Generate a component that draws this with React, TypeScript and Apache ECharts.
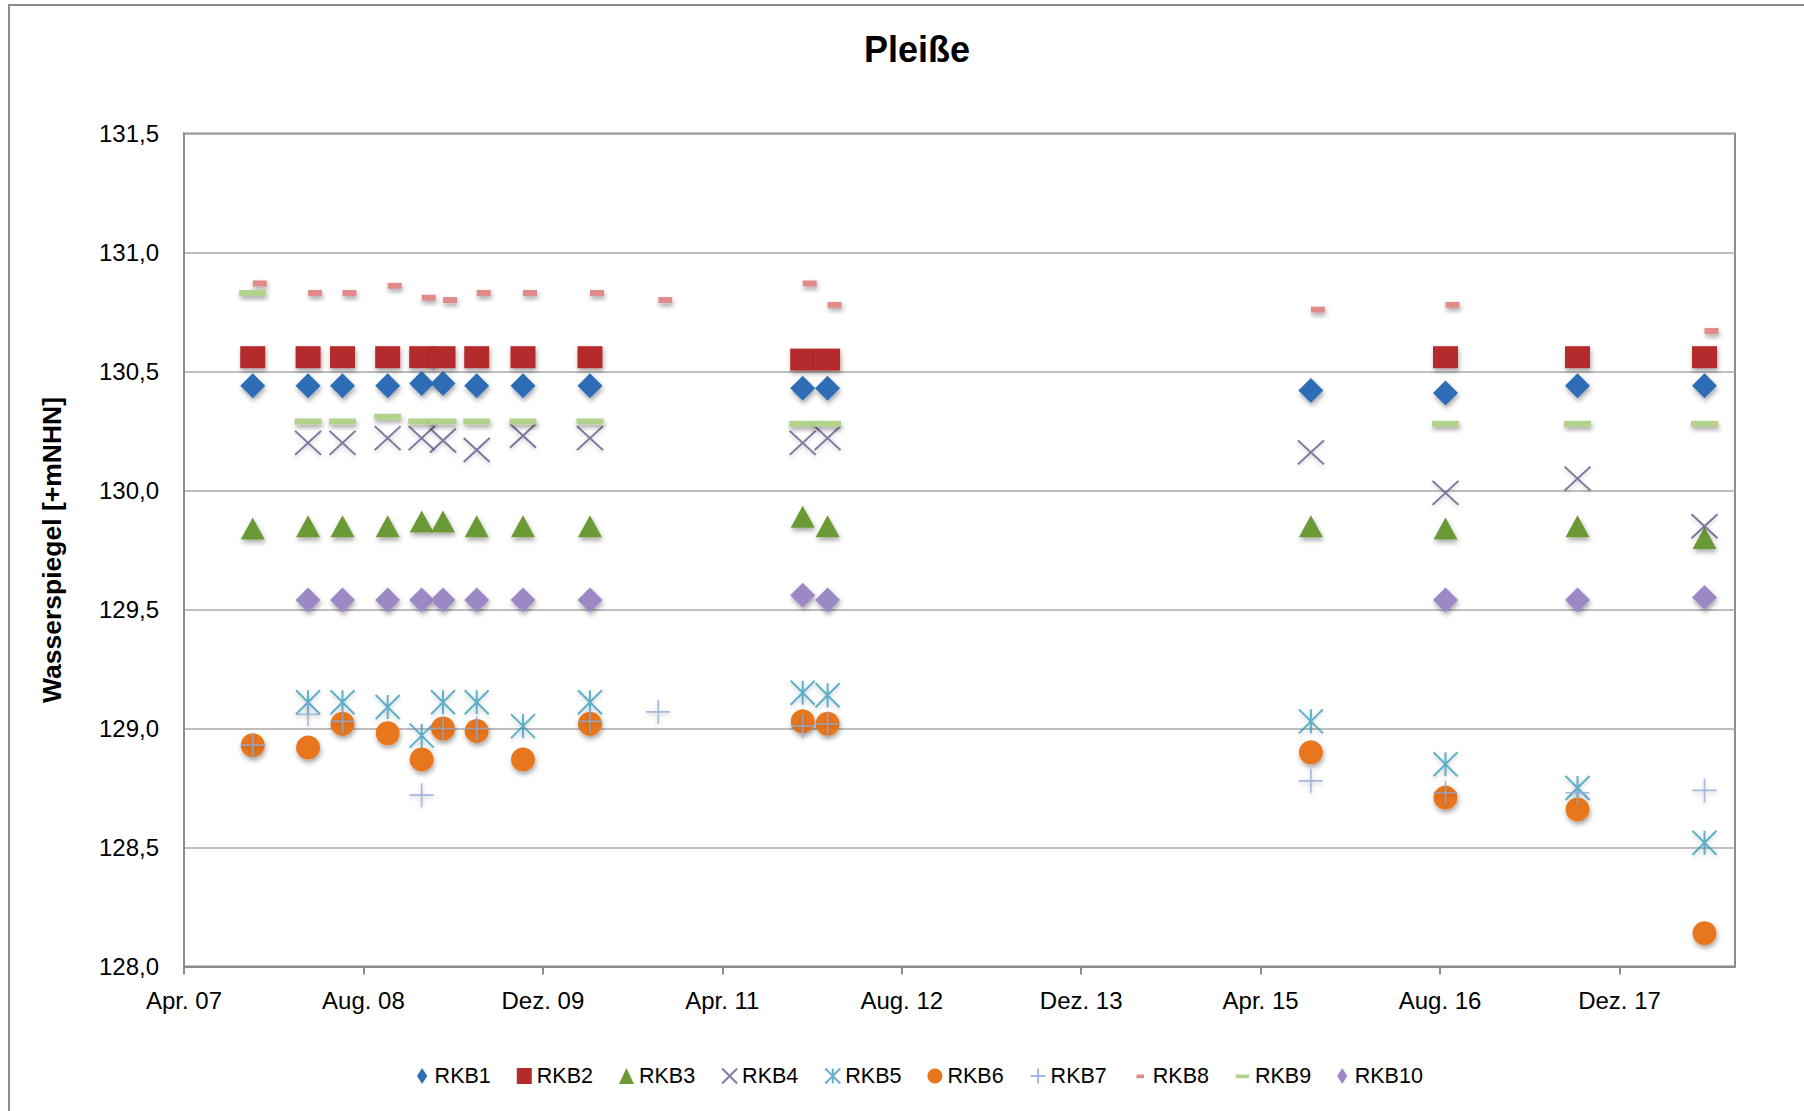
import React, { useEffect, useRef } from "react";
import * as echarts from "echarts";

// ---- data ----
const dates = [
  "2007-10-05", "2008-03-03", "2008-06-05", "2008-10-06", "2009-01-07", "2009-03-04",
  "2009-06-04", "2009-10-08", "2010-04-07", "2010-10-10", "2011-11-06", "2012-01-13",
  "2015-08-16", "2016-08-16", "2017-08-09", "2018-07-19",
];
const rkb1 = [130.44, 130.44, 130.44, 130.44, 130.45, 130.45, 130.44, 130.44, 130.44, null, 130.43, 130.43, 130.42, 130.41, 130.44, 130.44];
const rkb2 = [130.56, 130.56, 130.56, 130.56, 130.56, 130.56, 130.56, 130.56, 130.56, null, 130.55, 130.55, null, 130.56, 130.56, 130.56];
const rkb3 = [129.84, 129.85, 129.85, 129.85, 129.87, 129.87, 129.85, 129.85, 129.85, null, 129.89, 129.85, 129.85, 129.84, 129.85, 129.80];
const rkb4 = [null, 130.2, 130.2, 130.22, 130.22, 130.21, 130.17, 130.23, 130.22, null, 130.2, 130.22, 130.16, 129.99, 130.05, 129.85];
const rkb5 = [null, 129.11, 129.11, 129.09, 128.97, 129.11, 129.11, 129.01, 129.11, null, 129.15, 129.14, 129.03, 128.85, 128.75, 128.52];
const rkb6 = [128.93, 128.92, 129.02, 128.98, 128.87, 129.0, 128.99, 128.87, 129.02, null, 129.03, 129.02, 128.9, 128.71, 128.66, 128.14];
const rkb7 = [128.93, 129.06, 129.03, null, 128.72, 129.0, 129.0, null, 129.03, 129.07, 129.01, 129.02, 128.78, 128.73, 128.73, 128.74];
const rkb8 = [130.87, 130.83, 130.83, 130.86, 130.81, 130.8, 130.83, 130.83, 130.83, 130.8, 130.87, 130.78, 130.76, 130.78, null, 130.67];
const rkb9 = [130.83, 130.29, 130.29, 130.31, 130.29, 130.29, 130.29, 130.29, 130.29, null, 130.28, 130.28, null, 130.28, 130.28, 130.28];
const rkb10 = [null, 129.54, 129.54, 129.54, 129.54, 129.54, 129.54, 129.54, 129.54, null, 129.56, 129.54, null, 129.54, 129.54, 129.55];

const seriesNames = ["RKB1", "RKB2", "RKB3", "RKB4", "RKB5", "RKB6", "RKB7", "RKB8", "RKB9", "RKB10"];
const seriesValues = [rkb1, rkb2, rkb3, rkb4, rkb5, rkb6, rkb7, rkb8, rkb9, rkb10];

const xTickLabels = ["Apr. 07", "Aug. 08", "Dez. 09", "Apr. 11", "Aug. 12", "Dez. 13", "Apr. 15", "Aug. 16", "Dez. 17"];
const xTickStepMonths = 16;
const xMaxMonths = 138.3;
const yMin = 128.0;
const yMax = 131.5;
const yStep = 0.5;

const title = "Pleiße";
const yName = "Wasserspiegel [+mNHN]";

// ---- styles ----
const FONT = "'Liberation Sans', Arial, sans-serif";
const colors = ["#2f6db5", "#b52a2a", "#6b9a35", "#66578a", "#3a9fbe", "#e8761f", "#8ea8d6", "#e08a8a", "#b3d28b", "#9c88c4"];
const symbols = [
  "diamond",
  "rect",
  "triangle",
  "path://M0,0 L10,10 M10,0 L0,10",
  "path://M0,0 L10,10 M10,0 L0,10 M5,0 L5,10",
  "circle",
  "path://M5,0 L5,10 M0,5 L10,5",
  "rect",
  "rect",
  "diamond",
];
const sizes: any[] = [25, [25, 22], [24, 22], [26, 24], [24, 24], 24, [24, 24], [14, 6], [27, 6], 25];
const strokeOnly = [false, false, false, true, true, false, true, false, false, false];
const strokeW = [0, 0, 0, 2, 2, 0, 1.6, 0, 0, 0];
const legendIcons: any = {
  RKB8: "path://M0,0 M2.5,4 L7.5,4 L7.5,6.5 L2.5,6.5 Z M10,10",
  RKB9: "path://M0,0 M0.5,4 L9.5,4 L9.5,6.5 L0.5,6.5 Z M10,10",
  RKB1: "path://M0,5 L3.2,0 L6.4,5 L3.2,10 Z",
  RKB10: "path://M0,5 L3.2,0 L6.4,5 L3.2,10 Z",
};

function monthIndex(s: string): number {
  const [y, m, d] = s.split("-").map(Number);
  const dim = new Date(y, m, 0).getDate();
  return (y - 2007) * 12 + (m - 4) + (d - 1) / dim;
}

export default function App() {
  const ref = useRef<HTMLDivElement>(null);
  useEffect(() => {
    document.body.style.margin = "0";
    document.body.style.overflow = "hidden";
    const chart = echarts.init(ref.current!, null, { renderer: "svg" });
    const tickVals = xTickLabels.map((_, i) => i * xTickStepMonths);
    const series = seriesNames.map((name, si) => {
      const c = colors[si];
      const data: any[] = [];
      dates.forEach((d, i) => {
        const v = seriesValues[si][i];
        if (v != null) data.push([monthIndex(d), v]);
      });
      return {
        name,
        type: "scatter",
        data,
        symbol: symbols[si],
        symbolSize: sizes[si],
        symbolOffset: name === "RKB8" ? [7, 0] : [0, 0],
        itemStyle: strokeOnly[si]
          ? { color: c, borderColor: c, borderWidth: strokeW[si], shadowBlur: 4, shadowColor: "rgba(0,0,0,0.25)", shadowOffsetY: 2 }
          : { color: c, opacity: 1, shadowBlur: 5, shadowColor: "rgba(0,0,0,0.35)", shadowOffsetY: 3, shadowOffsetX: 1 },
        emphasis: { disabled: true },
      };
    });
    chart.setOption({
      animation: false,
      backgroundColor: "#ffffff",
      textStyle: { fontFamily: FONT },
      title: {
        text: title,
        left: 912,
        top: 26,
        textAlign: "center",
        textStyle: { fontSize: 36, fontWeight: "bold", color: "#000", fontFamily: FONT },
      },
      graphic: [
        {
          type: "rect",
          shape: { x: 9, y: 5, width: 2400, height: 2400 },
          style: { fill: "none", stroke: "#8c8c8c", lineWidth: 2 },
          silent: true,
          z: -10,
        },
      ],
      legend: {
        left: 412,
        top: 1060,
        itemWidth: 15,
        itemHeight: 16,
        itemGap: 26,
        textStyle: { fontSize: 21.5, color: "#000", fontFamily: FONT },
        data: seriesNames.map((n) => (legendIcons[n] ? { name: n, icon: legendIcons[n] } : { name: n })),
        selectedMode: false,
      },
      grid: {
        left: 184,
        right: 69,
        top: 133.5,
        bottom: 144.5,
        show: true,
        borderColor: "#8c8c8c",
        borderWidth: 2,
        backgroundColor: "transparent",
      },
      xAxis: {
        type: "value",
        min: 0,
        max: xMaxMonths,
        splitLine: { show: false },
        axisLine: { show: true, lineStyle: { color: "#8c8c8c", width: 2 } },
        axisTick: { show: true, length: 8, lineStyle: { color: "#8c8c8c", width: 2 }, customValues: tickVals },
        axisLabel: {
          customValues: tickVals,
          margin: 22,
          fontSize: 24,
          color: "#000",
          fontFamily: FONT,
          formatter: (v: number) => {
            const i = Math.round(v / xTickStepMonths);
            return Math.abs(v - i * xTickStepMonths) < 1e-6 && xTickLabels[i] ? xTickLabels[i] : "";
          },
        },
      },
      yAxis: {
        type: "value",
        min: yMin,
        max: yMax,
        interval: yStep,
        name: yName,
        nameLocation: "middle",
        nameGap: 119,
        nameRotate: 90,
        nameTextStyle: { fontSize: 26.5, fontWeight: "bold", color: "#000", fontFamily: FONT },
        axisLine: { show: true, lineStyle: { color: "#8c8c8c", width: 2 } },
        axisTick: { show: false },
        splitLine: { show: true, lineStyle: { color: "#a8a8a8", width: 1.6 } },
        axisLabel: {
          margin: 25,
          fontSize: 24,
          color: "#000",
          fontFamily: FONT,
          formatter: (v: number) => v.toFixed(1).replace(".", ","),
        },
      },
      series,
    });
    return () => chart.dispose();
  }, []);
  return <div ref={ref} style={{ width: 1804, height: 1111 }} />;
}
